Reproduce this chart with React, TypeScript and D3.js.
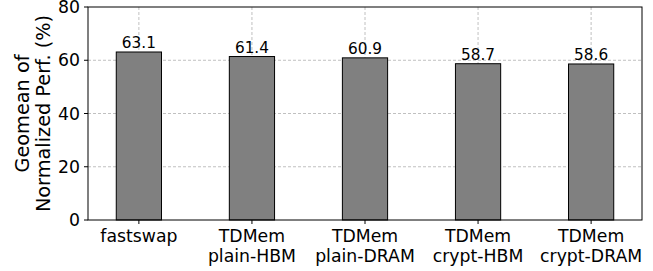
import * as d3 from "d3";
import React, { useEffect, useRef } from "react";

const categories = [
  ["fastswap"],
  ["TDMem", "plain-HBM"],
  ["TDMem", "plain-DRAM"],
  ["TDMem", "crypt-HBM"],
  ["TDMem", "crypt-DRAM"],
];
const values = [63.1, 61.4, 60.9, 58.7, 58.6];
const yTicks = [0, 20, 40, 60, 80];

const W = 653;
const H = 271;
const font = "DejaVu Sans, sans-serif";

export default function App() {
  const svgRef = useRef<SVGSVGElement | null>(null);

  useEffect(() => {
    const svg = d3.select(svgRef.current);
    svg.selectAll("*").remove();

    const left = 88, right = 642, top = 7, bottom = 220;

    const x = d3.scaleLinear().domain([-0.45, 4.45]).range([left, right]);
    const y = d3.scaleLinear().domain([0, 80]).range([bottom, top]);
    const barW = x(0.4) - x(0);

    // gridlines
    svg.append("g")
      .selectAll("line")
      .data(yTicks.slice(1, -1))
      .enter()
      .append("line")
      .attr("x1", left)
      .attr("x2", right)
      .attr("y1", (d) => y(d))
      .attr("y2", (d) => y(d))
      .attr("stroke", "#b0b0b0")
      .attr("stroke-width", 0.8)
      .attr("stroke-dasharray", "3,2");

    svg.append("g")
      .selectAll("line")
      .data(values.map((_, i) => i))
      .enter()
      .append("line")
      .attr("x1", (d) => x(d))
      .attr("x2", (d) => x(d))
      .attr("y1", top)
      .attr("y2", bottom)
      .attr("stroke", "#b0b0b0")
      .attr("stroke-width", 0.8)
      .attr("stroke-dasharray", "3,2");

    // bars
    svg.append("g")
      .selectAll("rect")
      .data(values)
      .enter()
      .append("rect")
      .attr("x", (d, i) => x(i) - barW / 2)
      .attr("y", (d) => y(d))
      .attr("width", barW)
      .attr("height", (d) => y(0) - y(d))
      .attr("fill", "#808080")
      .attr("stroke", "black")
      .attr("stroke-width", 1);

    // value labels
    svg.append("g")
      .selectAll("text")
      .data(values)
      .enter()
      .append("text")
      .attr("x", (d, i) => x(i))
      .attr("y", (d) => y(d) - 4)
      .attr("text-anchor", "middle")
      .attr("font-family", font)
      .attr("font-size", 15.3)
      .text((d) => d.toFixed(1));

    // frame
    svg.append("rect")
      .attr("x", left)
      .attr("y", top)
      .attr("width", right - left)
      .attr("height", bottom - top)
      .attr("fill", "none")
      .attr("stroke", "black")
      .attr("stroke-width", 1);

    // y axis
    const yAxis = svg.append("g");
    yTicks.forEach((t) => {
      yAxis.append("line")
        .attr("x1", left - 4)
        .attr("x2", left)
        .attr("y1", y(t))
        .attr("y2", y(t))
        .attr("stroke", "black");
      yAxis.append("text")
        .attr("x", left - 8)
        .attr("y", y(t))
        .attr("dy", "0.36em")
        .attr("text-anchor", "end")
        .attr("font-family", font)
        .attr("font-size", 17.3)
        .text(t);
    });

    // x axis
    const xAxis = svg.append("g");
    categories.forEach((lines, i) => {
      xAxis.append("line")
        .attr("x1", x(i))
        .attr("x2", x(i))
        .attr("y1", bottom)
        .attr("y2", bottom + 4)
        .attr("stroke", "black");
      lines.forEach((l, j) => {
        xAxis.append("text")
          .attr("x", x(i))
          .attr("y", bottom + 22 + j * 19.5)
          .attr("text-anchor", "middle")
          .attr("font-family", font)
          .attr("font-size", 17.3)
          .text(l);
      });
    });

    // y label
    const yl = svg.append("text")
      .attr("transform", `translate(29,${(top + bottom) / 2}) rotate(-90)`)
      .attr("text-anchor", "middle")
      .attr("font-family", font)
      .attr("font-size", 19.3);
    yl.append("tspan").attr("x", 0).attr("dy", 0).text("Geomean of");
    yl.append("tspan").attr("x", 0).attr("dy", 21).text("Normalized Perf. (%)");
  }, []);

  return (
    <svg
      ref={svgRef}
      width={W}
      height={H}
      style={{ position: "absolute", left: 0, top: 0, background: "white" }}
    />
  );
}
